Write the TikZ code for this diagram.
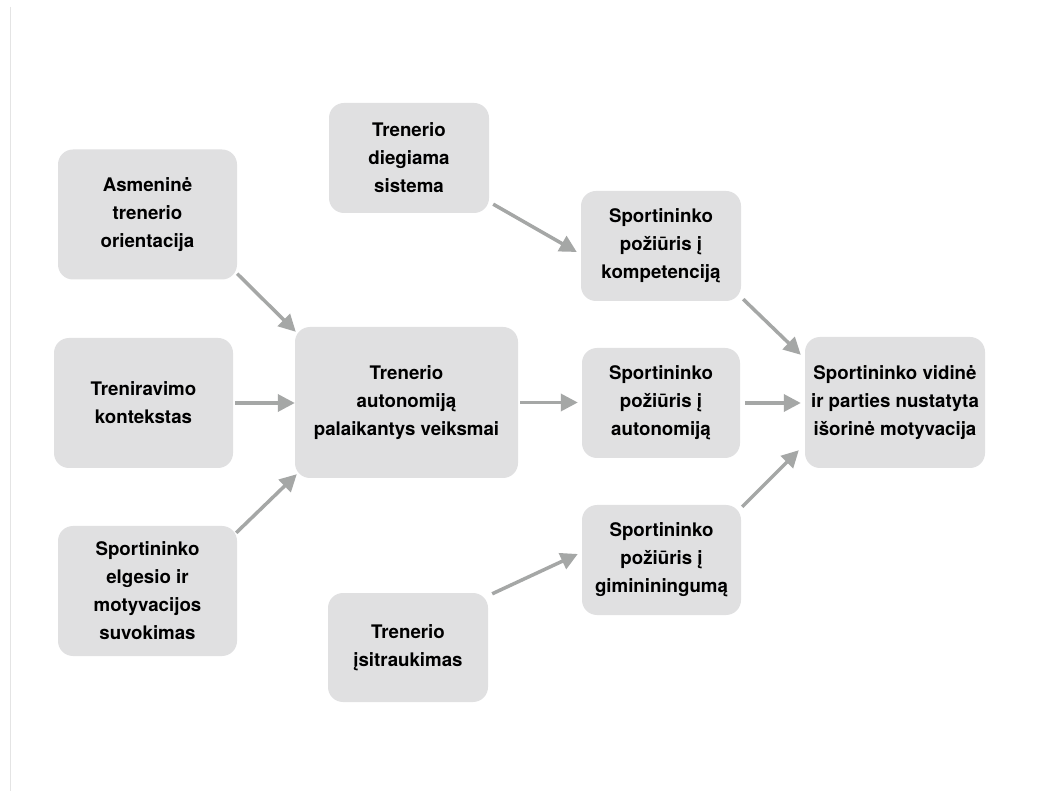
\documentclass[tikz,border=0pt]{standalone}
\usepackage{fontspec}
\setmainfont{TeX Gyre Heros}
\usetikzlibrary{arrows.meta}
\definecolor{boxfill}{HTML}{E0E0E1}
\definecolor{arrgray}{HTML}{A5A7A6}
\definecolor{edgeline}{HTML}{E4E4E4}
\tikzset{
  box/.style={rectangle, rounded corners=15pt, fill=boxfill, align=center, inner sep=0pt,
    font=\fontsize{18.7}{28}\selectfont\bfseries},
  arr/.style={draw=arrgray, line width=3.5pt, -{Triangle[length=17pt,width=17pt]}, fill=arrgray}
}
\begin{document}
\begin{tikzpicture}[x=1pt,y=-1pt]
\useasboundingbox (0,0) rectangle (1053,791);
\fill[white] (0,0) rectangle (1053,791);
\coordinate (lt) at (10.5,7);
\coordinate (lb) at (10.5,791);
\draw[edgeline, line width=1pt] (lt) -- (lb);

\node[box, minimum width=179pt, minimum height=130pt] (A) at (147.5,214.5) {Asmeninė\\trenerio\\orientacija};
\node[box, minimum width=179pt, minimum height=130pt] (B) at (143.5,403) {Treniravimo\\kontekstas};
\node[box, minimum width=179pt, minimum height=130pt] (C) at (147.5,591) {Sportininko\\elgesio ir\\motyvacijos\\suvokimas};
\node[box, minimum width=160pt, minimum height=110pt] (D) at (409,158) {Trenerio\\diegiama\\sistema};
\node[box, minimum width=223pt, minimum height=151pt] (E) at (406.5,402.5) {Trenerio\\autonomiją\\palaikantys veiksmai};
\node[box, minimum width=160pt, minimum height=110pt] (F) at (661,246) {Sportininko\\požiūris į\\kompetenciją};
\node[box, minimum width=158pt, minimum height=110pt] (G) at (661,403) {Sportininko\\požiūris į\\autonomiją};
\node[box, minimum width=180pt, minimum height=131pt] (H) at (895,402.5) {Sportininko vidinė\\ir parties nustatyta\\išorinė motyvacija};
\node[box, minimum width=159pt, minimum height=110pt] (I) at (661.5,560) {Sportininko\\požiūris į\\gimininingumą};
\node[box, minimum width=160pt, minimum height=109pt] (J) at (408,647.5) {Trenerio\\įsitraukimas};

\draw[arr] ([yshift=6pt]A.south east) -- ([xshift=1pt,yshift=-5pt]E.north west);
\draw[arr, shorten <=2pt] (B.east) -- (B.east -| E.west);
\draw[arr] ([xshift=-1pt,yshift=-7pt]C.north east) -- ([xshift=2pt,yshift=4pt]E.south west);
\draw[arr] ([xshift=4pt,yshift=9pt]D.south east) -- ([xshift=-4pt,yshift=-6pt]F.west);
\draw[arr, shorten <=2pt, shorten >=4pt] (E.east) -- (E.east -| G.west);
\draw[arr] ([xshift=4pt,yshift=-1pt]J.north east) -- ([xshift=-4pt,yshift=6pt]I.west);
\draw[arr] ([xshift=2pt,yshift=2pt]F.south east) -- ([xshift=-4pt,yshift=-18pt]H.north west);
\draw[arr, shorten <=5pt, shorten >=4pt] (G.east) -- (G.east -| H.west);
\draw[arr] ([xshift=1pt,yshift=-2pt]I.north east) -- ([xshift=-6pt,yshift=18pt]H.south west);
\end{tikzpicture}
\end{document}
